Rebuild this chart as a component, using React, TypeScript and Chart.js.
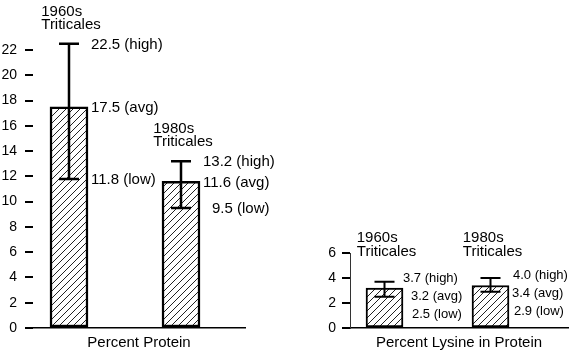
import { useEffect, useRef } from 'react';
import { Chart, registerables } from 'chart.js';

Chart.register(...registerables);

// ---- data ----
const categories = ['1960s', '1980s'];
const categorySubtitle = 'Triticales';

const proteinAvg = [17.5, 11.6];
const proteinHigh = [22.5, 13.2];
const proteinLow = [11.8, 9.5];

const lysineAvg = [3.2, 3.4];
const lysineHigh = [3.7, 4.0];
const lysineLow = [2.5, 2.9];

const proteinAxis = { min: 0, max: 22, step: 2 };
const lysineAxis = { min: 0, max: 6, step: 2 };

const proteinTitle = 'Percent Protein';
const lysineTitle = 'Percent Lysine in Protein';

// ---- style ----
const FONT = "'Liberation Sans', Arial, Helvetica, sans-serif";

function makeHatch(): CanvasPattern | string {
  const s = 7;
  const c = document.createElement('canvas');
  c.width = s;
  c.height = s;
  const g = c.getContext('2d');
  if (!g) return '#fff';
  g.fillStyle = '#fff';
  g.fillRect(0, 0, s, s);
  g.strokeStyle = '#222';
  g.lineWidth = 1;
  g.beginPath();
  g.moveTo(0, s);
  g.lineTo(s, 0);
  g.moveTo(-1, 1);
  g.lineTo(1, -1);
  g.moveTo(s - 1, s + 1);
  g.lineTo(s + 1, s - 1);
  g.stroke();
  return g.createPattern(c, 'repeat') || '#fff';
}

interface AnnotOpts {
  avg: number[];
  high: number[];
  low: number[];
  capWidth: number;
  lineWidth: number;
  labelSize: number;
  labelDx: number[][];
  stacked: boolean;
  stackGap: number;
  headerFromTop: boolean;
  headerDy: number[];
  labelDy: number;
}

function annotPlugin(o: AnnotOpts) {
  return {
    id: 'annot',
    afterDatasetsDraw(chart: any) {
      const meta = chart.getDatasetMeta(0);
      const ys = chart.scales.y;
      const ctx: CanvasRenderingContext2D = chart.ctx;
      ctx.save();
      meta.data.forEach((bar: any, i: number) => {
        const cx = bar.x;
        const half = bar.width / 2;
        const yh = ys.getPixelForValue(o.high[i]);
        const yl = ys.getPixelForValue(o.low[i]);
        const ya = ys.getPixelForValue(o.avg[i]);
        // error bar
        ctx.strokeStyle = '#000';
        ctx.lineWidth = o.lineWidth;
        ctx.beginPath();
        ctx.moveTo(cx, yh);
        ctx.lineTo(cx, yl);
        ctx.moveTo(cx - o.capWidth / 2, yh);
        ctx.lineTo(cx + o.capWidth / 2, yh);
        ctx.moveTo(cx - o.capWidth / 2, yl);
        ctx.lineTo(cx + o.capWidth / 2, yl);
        ctx.stroke();
        // value labels
        ctx.fillStyle = '#000';
        ctx.textAlign = 'left';
        ctx.textBaseline = 'middle';
        ctx.font = `${o.labelSize}px ${FONT}`;
        const texts = [
          `${o.high[i].toFixed(1)} (high)`,
          `${o.avg[i].toFixed(1)} (avg)`,
          `${o.low[i].toFixed(1)} (low)`,
        ];
        const py = o.stacked
          ? [yh + o.labelDy, yh + o.labelDy + o.stackGap, yh + o.labelDy + 2 * o.stackGap]
          : [yh + o.labelDy, ya + o.labelDy, yl + o.labelDy];
        texts.forEach((t, k) => ctx.fillText(t, cx + half + o.labelDx[i][k], py[k]));
        // category header
        ctx.font = `15px ${FONT}`;
        const w = ctx.measureText(categorySubtitle).width;
        const hx = cx - w / 2 + 2;
        const base = o.headerFromTop ? ys.getPixelForValue(ys.max) : yh;
        ctx.fillText(categories[i], hx, base + o.headerDy[0]);
        ctx.fillText(categorySubtitle, hx, base + o.headerDy[1]);
      });
      ctx.restore();
    },
  };
}

interface CfgOpts {
  avg: number[];
  axis: { min: number; max: number; step: number };
  title: string;
  xMin: number;
  xMax: number;
  padTop: number;
  padRight: number;
  yWidth: number;
  tickPad: number;
  barThickness: number;
  borderWidth: number;
  yBorder: any;
  plugin: any;
}

function buildConfig(o: CfgOpts): any {
  return {
    type: 'bar',
    data: {
      datasets: [
        {
          data: o.avg.map((v, i) => ({ x: i + 1, y: v })),
          backgroundColor: makeHatch(),
          borderColor: '#000',
          borderWidth: o.borderWidth,
          borderSkipped: false,
          barThickness: o.barThickness,
        },
      ],
    },
    options: {
      animation: false,
      responsive: false,
      maintainAspectRatio: false,
      events: [],
      layout: { padding: { left: 0, top: o.padTop, right: o.padRight, bottom: 0 } },
      plugins: { legend: { display: false }, tooltip: { enabled: false } },
      scales: {
        x: {
          type: 'linear',
          min: o.xMin,
          max: o.xMax,
          offset: false,
          ticks: { display: false },
          grid: { display: false },
          border: { display: true, color: '#000', width: 1.5 },
          title: {
            display: true,
            text: o.title,
            color: '#000',
            font: { size: 15, family: FONT },
            padding: { top: 0, bottom: 3 },
          },
          afterFit: (s: any) => {
            s.height = 27;
          },
        },
        y: {
          min: o.axis.min,
          max: o.axis.max,
          ticks: {
            stepSize: o.axis.step,
            color: '#000',
            font: { size: 14, family: FONT },
            padding: o.tickPad,
          },
          grid: {
            display: true,
            drawOnChartArea: false,
            drawTicks: true,
            tickLength: 8,
            color: '#000',
            lineWidth: 2,
          },
          border: o.yBorder,
          afterFit: (s: any) => {
            s.width = o.yWidth;
          },
        },
      },
    },
    plugins: [o.plugin],
  };
}

export default function App() {
  const leftRef = useRef<HTMLCanvasElement>(null);
  const rightRef = useRef<HTMLCanvasElement>(null);

  useEffect(() => {
    Chart.defaults.font.family = FONT;
    Chart.defaults.color = '#000';
    if (!leftRef.current || !rightRef.current) return;

    const left = new Chart(
      leftRef.current,
      buildConfig({
        avg: proteinAvg,
        axis: proteinAxis,
        title: proteinTitle,
        xMin: 0.6786,
        xMax: 2.5714,
        padTop: 50,
        padRight: 55,
        yWidth: 33,
        tickPad: 8,
        barThickness: 38,
        borderWidth: 2.5,
        yBorder: { display: false },
        plugin: annotPlugin({
          avg: proteinAvg,
          high: proteinHigh,
          low: proteinLow,
          capWidth: 20,
          lineWidth: 2.5,
          labelSize: 15,
          labelDx: [
            [3, 3, 3],
            [3, 3, 12],
          ],
          stacked: false,
          stackGap: 0,
          headerFromTop: false,
          headerDy: [-32, -19],
          labelDy: 1,
        }),
      })
    );

    const right = new Chart(
      rightRef.current,
      buildConfig({
        avg: lysineAvg,
        axis: lysineAxis,
        title: lysineTitle,
        xMin: 0.6745,
        xMax: 2.7311,
        padTop: 253,
        padRight: 3,
        yWidth: 50,
        tickPad: 6,
        barThickness: 37,
        borderWidth: 2,
        yBorder: { display: true, color: '#333', width: 1, dash: [1, 2] },
        plugin: annotPlugin({
          avg: lysineAvg,
          high: lysineHigh,
          low: lysineLow,
          capWidth: 20,
          lineWidth: 2,
          labelSize: 13,
          labelDx: [
            [0, 8, 9],
            [4, 3, 5],
          ],
          stacked: true,
          stackGap: 18,
          headerFromTop: true,
          headerDy: [-15, -1],
          labelDy: -3,
        }),
      })
    );

    return () => {
      left.destroy();
      right.destroy();
    };
  }, []);

  return (
    <div
      style={{
        position: 'absolute',
        left: 0,
        top: 0,
        width: 571,
        height: 355,
        background: '#fff',
        overflow: 'hidden',
      }}
    >
      <canvas
        ref={leftRef}
        width={300}
        height={355}
        style={{ position: 'absolute', left: 0, top: 0, width: 300, height: 355 }}
      />
      <canvas
        ref={rightRef}
        width={271}
        height={355}
        style={{ position: 'absolute', left: 300, top: 0, width: 271, height: 355 }}
      />
    </div>
  );
}
